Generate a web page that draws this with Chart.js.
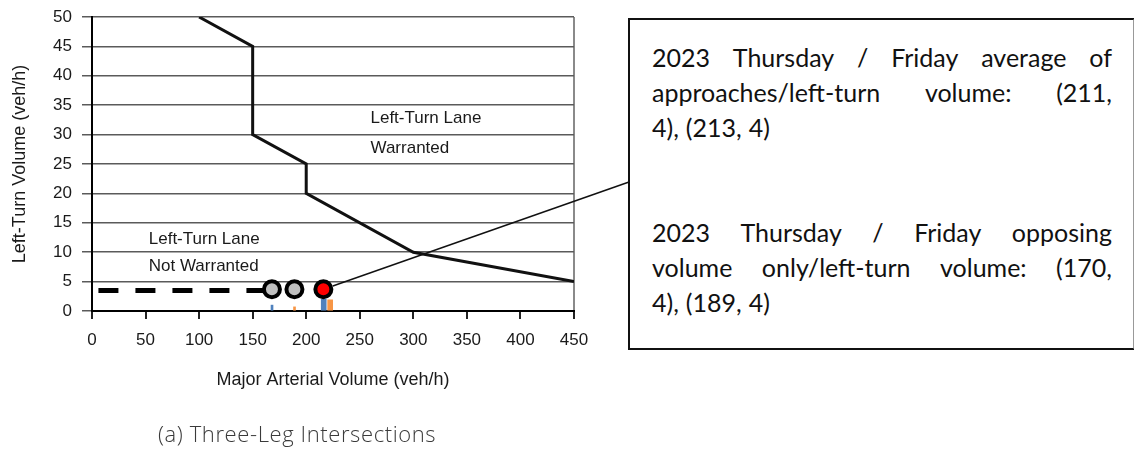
<!DOCTYPE html>
<html>
<head>
<meta charset="utf-8">
<script src="https://cdn.jsdelivr.net/npm/chart.js@4/dist/chart.umd.min.js"></script>
<style>
  html, body { margin: 0; padding: 0; background: #fff; }
  #wrap { position: relative; width: 1134px; height: 463px; overflow: hidden; }
  #chart { position: absolute; left: 0; top: 0; }
  .note {
    position: absolute; left: 628px; top: 18px; width: 503px; height: 308px;
    border: 2px solid #111; border-right-color: #999; background: #fff;
    box-sizing: content-box; padding: 20px 0 0 0;
    font-family: Lato, "Open Sans", sans-serif; font-size: 25px; color: #111;
  }
  .note .para { margin: 0 21px 70px 22px; }
  .note .line { display: flex; justify-content: space-between; height: 35px; line-height: 35px; white-space: pre; }
  .note .line.last { justify-content: flex-start; gap: 7px; }
  .caption {
    position: absolute; left: 158px; top: 418px;
    font-family: "Open Sans", Lato, sans-serif; font-weight: 300; font-size: 22px;
    letter-spacing: 0.6px; color: #3a3a3a;
  }
</style>
</head>
<body>
<div id="wrap">
  <canvas id="chart" width="1134" height="463"></canvas>
  <div class="note" id="note"></div>
  <div class="caption">(a) Three-Leg Intersections</div>
</div>
<script>
// warrant boundary curve (major volume, left-turn volume)
const boundaryX = [100, 150, 150, 200, 200, 300, 450]
const boundaryY = [50, 45, 30, 25, 20, 10, 5]

// dashed reference line at left-turn volume
const dashX = [6, 168]
const dashY = [3.5, 3.5]

// opposing volume only (grey) and average of approaches (red)
const opposingX = [168, 189]
const opposingY = [3.7, 3.7]
const averageX = [216]
const averageY = [3.7]

// small bars along the x axis
const thinBarX = [169, 190]
const thinBarY = [1.0, 0.7]
const thickBarX = [214, 220]
const thickBarY = [2.0, 1.9]
const BAR_COLORS = ['#4f81bd', '#f79646']

const X_TICKS = [0, 50, 100, 150, 200, 250, 300, 350, 400, 450]
const Y_TICKS = [0, 5, 10, 15, 20, 25, 30, 35, 40, 45, 50]

const NOTE_A = ['2023 Thursday / Friday average of', 'approaches/left-turn volume: (211,', '4), (213, 4)']
const NOTE_B = ['2023 Thursday / Friday opposing', 'volume only/left-turn volume: (170,', '4), (189, 4)']

const zip = (xs, ys) => xs.map((x, i) => ({ x, y: ys[i] }))

// build the text box (each line justified edge to edge except the last)
const note = document.getElementById('note')
;[NOTE_A, NOTE_B].forEach(lines => {
  const p = document.createElement('div')
  p.className = 'para'
  lines.forEach((txt, i) => {
    const row = document.createElement('div')
    row.className = 'line' + (i === lines.length - 1 ? ' last' : '')
    txt.split(' ').forEach(w => {
      const s = document.createElement('span')
      s.textContent = w
      row.appendChild(s)
    })
    p.appendChild(row)
  })
  note.appendChild(p)
})

// region labels + leader line from the red point to the box
const overlayPlugin = {
  id: 'overlay',
  beforeDatasetsDraw(chart) {
    const { ctx, scales: { x, y } } = chart
    ctx.save()
    ctx.font = '17px "Liberation Sans", Arial, sans-serif'
    ctx.fillStyle = '#1a1a1a'
    ctx.textBaseline = 'middle'
    ctx.fillText('Left-Turn Lane', x.getPixelForValue(260), y.getPixelForValue(32.7))
    ctx.fillText('Warranted', x.getPixelForValue(260), y.getPixelForValue(27.7))
    ctx.fillText('Left-Turn Lane', x.getPixelForValue(53), y.getPixelForValue(12.2))
    ctx.fillText('Not Warranted', x.getPixelForValue(53), y.getPixelForValue(7.6))
    ctx.restore()
  },
  afterDraw(chart) {
    const { ctx, scales: { x, y } } = chart
    const px = x.getPixelForValue(averageX[0])
    const py = y.getPixelForValue(averageY[0])
    const ex = 629, ey = 182
    const len = Math.hypot(ex - px, ey - py)
    ctx.save()
    ctx.strokeStyle = '#111'
    ctx.lineWidth = 1.5
    ctx.beginPath()
    ctx.moveTo(px + (ex - px) * 10 / len, py + (ey - py) * 10 / len)
    ctx.lineTo(ex, ey)
    ctx.stroke()
    ctx.restore()
  },
}

const tickFont = { family: '"Liberation Sans", Arial, sans-serif', size: 17 }
const titleFont = { family: '"Liberation Sans", Arial, sans-serif', size: 18 }

new Chart(document.getElementById('chart'), {
  type: 'line',
  data: {
    datasets: [
      {
        type: 'scatter',
        data: zip(averageX, averageY),
        backgroundColor: '#ff0000',
        borderColor: '#000',
        borderWidth: 4,
        pointRadius: 8,
        order: 0,
      },
      {
        type: 'scatter',
        data: zip(opposingX, opposingY),
        backgroundColor: '#c0c0c0',
        borderColor: '#000',
        borderWidth: 4,
        pointRadius: 8,
        order: 1,
      },
      {
        data: zip(dashX, dashY),
        borderColor: '#000',
        borderWidth: 5,
        borderDash: [20, 17],
        pointRadius: 0,
        order: 2,
      },
      {
        data: zip(boundaryX, boundaryY),
        borderColor: '#111',
        borderWidth: 3,
        pointRadius: 0,
        tension: 0,
        order: 3,
      },
      {
        type: 'bar',
        data: zip(thinBarX, thinBarY),
        backgroundColor: BAR_COLORS,
        barThickness: 2,
        order: 4,
      },
      {
        type: 'bar',
        data: zip(thickBarX, thickBarY),
        backgroundColor: BAR_COLORS,
        barThickness: 5,
        order: 4,
      },
    ],
  },
  options: {
    responsive: false,
    animation: false,
    layout: { padding: { top: 17, left: 0, right: 560, bottom: 72 } },
    plugins: { legend: { display: false }, tooltip: { enabled: false } },
    scales: {
      x: {
        type: 'linear',
        min: 0,
        max: 450,
        offset: false,
        afterBuildTicks: (s) => { s.ticks = X_TICKS.map(v => ({ value: v })) },
        afterFit: (s) => { s.height = 80 },
        border: { color: '#000', width: 2 },
        grid: {
          offset: false,
          color: (c) => (c.tick && c.tick.value === 450 ? '#8a8a8a' : 'rgba(0,0,0,0)'),
          lineWidth: 2,
          tickColor: '#222',
          tickLength: 8,
        },
        ticks: { color: '#1a1a1a', font: tickFont, padding: 11, maxRotation: 0 },
        title: {
          display: true,
          text: 'Major Arterial Volume (veh/h)',
          color: '#1a1a1a',
          font: titleFont,
          padding: { top: 4, bottom: 0 },
        },
      },
      y: {
        min: 0,
        max: 50,
        afterBuildTicks: (s) => { s.ticks = Y_TICKS.map(v => ({ value: v })) },
        afterFit: (s) => {
          s.width = 92
          // tick-label overflow must not push the plot top below the layout padding
          s.paddingTop = 5
          s.paddingBottom = 5
        },
        border: { color: '#000', width: 2 },
        grid: { color: '#5a5a5a', lineWidth: 1.5, tickColor: '#5a5a5a', tickLength: 10 },
        ticks: { color: '#1a1a1a', font: tickFont, padding: 10 },
        title: {
          display: true,
          text: 'Left-Turn Volume (veh/h)',
          color: '#1a1a1a',
          font: titleFont,
          padding: { top: 9, bottom: 0 },
        },
      },
    },
  },
  plugins: [overlayPlugin],
})
</script>
</body>
</html>
